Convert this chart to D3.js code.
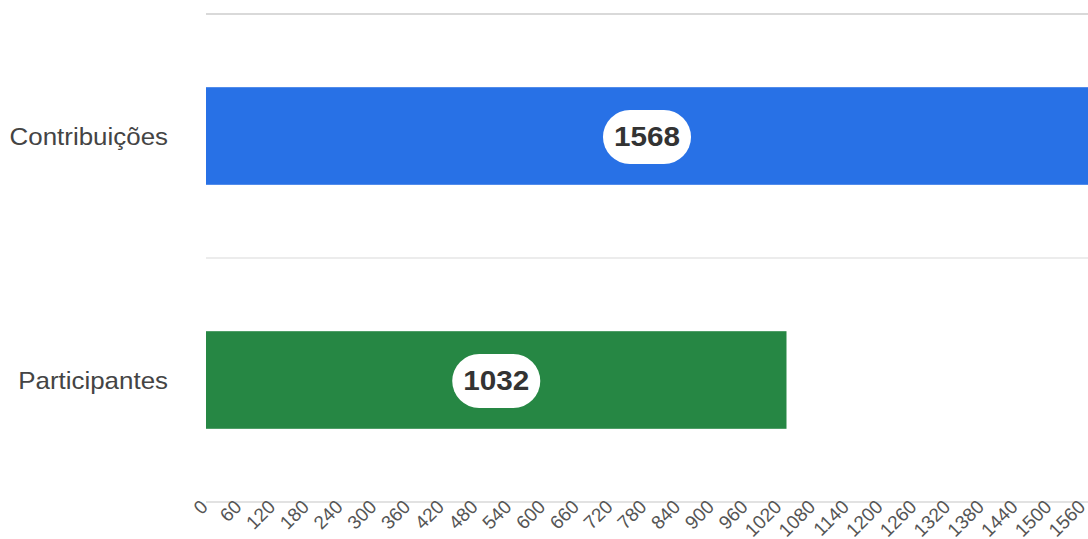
<!DOCTYPE html>
<html>
<head>
<meta charset="utf-8">
<script src="https://cdn.jsdelivr.net/npm/d3@7"></script>
<style>
  body { margin: 0; background: #fff; }
  text { font-family: "Liberation Sans", Arial, sans-serif; }
</style>
</head>
<body>
<script>
var width = 1088,
    height = 539;

// data
var categories = ["Contribuições", "Participantes"];
var values = [1568, 1032];
var colors = ["#2871e6", "#268744"];
var tickValues = [0, 60, 120, 180, 240, 300, 360, 420, 480, 540, 600, 660, 720, 780,
                  840, 900, 960, 1020, 1080, 1140, 1200, 1260, 1320, 1380, 1440, 1500, 1560];

var x = d3.scaleLinear()
          .domain([0, 1568])
          .range([206, 1088]);

var y = d3.scaleBand()
          .domain(categories)
          .range([14, 502])
          .padding(0);

var barPad = 0.3; // fraction of the row left empty above and below the bar
var stretch = 1.08; // the original text looks a bit wide

var svg = d3.select("body")
            .append("svg")
            .attr("width", width)
            .attr("height", height);

// horizontal gridlines at row boundaries
svg.selectAll("line.grid")
   .data(categories)
   .enter()
   .append("line")
   .attr("class", "grid")
   .attr("x1", x(0))
   .attr("x2", width)
   .attr("y1", function(d){ return y(d); })
   .attr("y2", function(d){ return y(d); })
   .attr("stroke", function(d, i){ return i == 0 ? "#cccccc" : "#e6e6e6"; })
   .attr("stroke-width", 1.5);

// baseline axis
svg.append("line")
   .attr("x1", x(0))
   .attr("x2", width)
   .attr("y1", y.range()[1])
   .attr("y2", y.range()[1])
   .attr("stroke", "#d9d9d9")
   .attr("stroke-width", 1.5);

// bars
svg.selectAll("rect.bar")
   .data(values)
   .enter()
   .append("rect")
   .attr("class", "bar")
   .attr("x", x(0))
   .attr("y", function(d, i){ return y(categories[i]) + y.step() * barPad; })
   .attr("width", function(d){ return x(d) - x(0); })
   .attr("height", y.step() * (1 - 2 * barPad))
   .attr("fill", function(d, i){ return colors[i]; });

// category labels
svg.selectAll("text.cat")
   .data(categories)
   .enter()
   .append("text")
   .attr("class", "cat")
   .attr("transform", function(d){
      return "translate(168," + (y(d) + y.step() / 2) + ") scale(" + stretch + ",1)";
   })
   .attr("dy", "0.36em")
   .attr("text-anchor", "end")
   .attr("fill", "#444")
   .style("font-size", "24px")
   .text(function(d){ return d; });

// value pills
var pill = svg.selectAll("g.pill")
              .data(values)
              .enter()
              .append("g")
              .attr("class", "pill")
              .attr("transform", function(d, i){
                 return "translate(" + (x(0) + x(d)) / 2 + "," + (y(categories[i]) + y.step() / 2) + ")";
              });

pill.append("rect")
    .attr("fill", "#fff");

pill.append("text")
    .attr("text-anchor", "middle")
    .attr("dy", "0.36em")
    .attr("fill", "#333")
    .attr("transform", "scale(" + (stretch + 0.02) + ",1)")
    .style("font-size", "27px")
    .style("font-weight", "bold")
    .text(function(d){ return d; });

pill.each(function(){
  var g = d3.select(this);
  var w = g.select("text").node().getComputedTextLength() * (stretch + 0.02) + 22;
  var h = 54;
  g.select("rect")
   .attr("x", -w / 2)
   .attr("y", -h / 2 + 1)
   .attr("width", w)
   .attr("height", h)
   .attr("rx", h / 2);
});

// rotated tick labels
svg.selectAll("text.tick")
   .data(tickValues)
   .enter()
   .append("text")
   .attr("class", "tick")
   .attr("text-anchor", "end")
   .attr("fill", "#555")
   .style("font-size", "19px")
   .attr("transform", function(d){ return "translate(" + (x(d) + 3) + ",508) rotate(-45)"; })
   .text(function(d){ return d; });
</script>
</body>
</html>
